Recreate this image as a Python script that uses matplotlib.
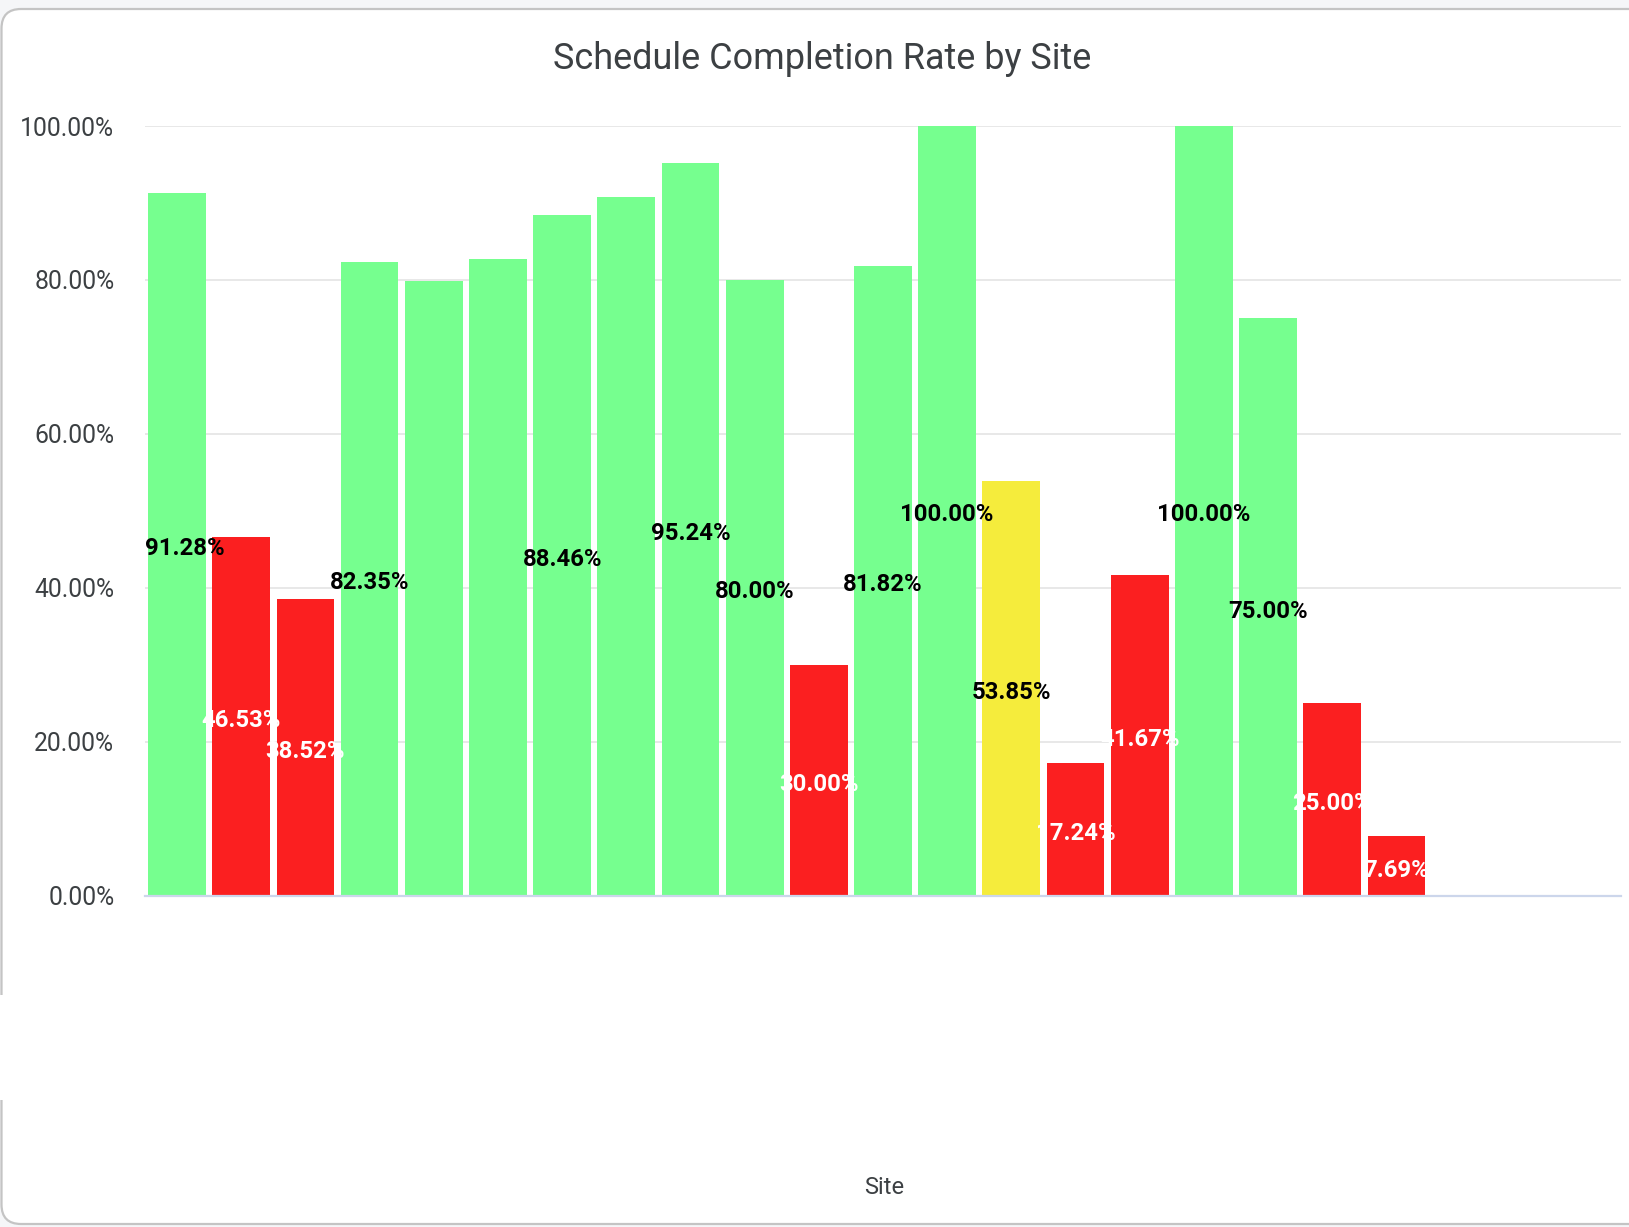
import matplotlib
matplotlib.use("Agg")
import matplotlib.pyplot as plt
from matplotlib.patches import FancyBboxPatch, Rectangle

plt.rcParams['font.family'] = ['Roboto', 'DejaVu Sans']

# ---- data ----
sites = [f"Site {i+1}" for i in range(20)]
rates = [91.28, 46.53, 38.52, 82.35, 79.87, 82.73, 88.46, 90.78, 95.24, 80.00,
         30.00, 81.82, 100.00, 53.85, 17.24, 41.67, 100.00, 75.00, 25.00, 7.69]
status = ["ok", "bad", "bad", "ok", "ok", "ok", "ok", "ok", "ok", "ok",
          "bad", "ok", "ok", "warn", "bad", "bad", "ok", "ok", "bad", "bad"]
show_label = [True, True, True, True, False, False, True, False, True, True,
              True, True, True, True, True, True, True, True, True, True]
n_slots = 23
yticks = [0, 20, 40, 60, 80, 100]

colors = {"ok": "#76FF8F", "bad": "#FB1F20", "warn": "#F5EC3C"}
text_colors = {"ok": "black", "bad": "white", "warn": "black"}

W, H = 1629, 1227
fig = plt.figure(figsize=(W / 100, H / 100), dpi=100)

# page background strip and card
fig.patches.append(Rectangle((0, 0), 1, 1, transform=fig.transFigure,
                             facecolor="#f5f6f8", edgecolor="none", zorder=0))
card = FancyBboxPatch((1.5 / W, 3 / H), (W + 40) / W, (H - 12) / H,
                      boxstyle="round,pad=0,rounding_size=0.012",
                      transform=fig.transFigure, facecolor="white",
                      edgecolor="#c4c4c4", linewidth=1.6, zorder=1,
                      mutation_aspect=W / H)
fig.patches.append(card)
# gap in left border of the card
fig.patches.append(Rectangle((0, 1 - 1100 / H), 6 / W, 105 / H, transform=fig.transFigure,
                             facecolor="white", edgecolor="none", zorder=2))

ax = fig.add_axes([145 / W, 1 - 895.5 / H, 1476 / W, 769.5 / H])
ax.set_zorder(3)
ax.patch.set_alpha(0)

x = list(range(len(rates)))
bar_colors = [colors[s] for s in status]
ax.bar(x, rates, width=0.9, color=bar_colors, zorder=2)

ax.set_xlim(-0.5, n_slots - 0.5)
ax.set_ylim(0, 100)

labels = []
for xi, v, s, show in zip(x, rates, status, show_label):
    if show:
        t = ax.annotate(f"{v:.2f}%", (xi, v / 2), xytext=(0, -3), textcoords="offset points",
                        ha="center", va="center", fontsize=17.2, fontweight="bold",
                        color=text_colors[s], zorder=4)
        labels.append(t)

# keep labels inside the plot area (shift right if they overflow on the left)
fig.canvas.draw()
renderer = fig.canvas.get_renderer()
ax_bb = ax.get_window_extent(renderer)
for t in labels:
    bb = t.get_window_extent(renderer)
    if bb.x0 < ax_bb.x0:
        dx = (ax_bb.x0 - bb.x0) * 72 / fig.dpi
        t.set_position((dx, -3))

ax.set_yticks(yticks)
ax.set_yticklabels([f"{t:.2f}%" for t in yticks], fontsize=17.8, color="#3c4043")
ax.tick_params(axis="y", length=0, pad=22)
ax.set_xticks([])
for sp in ["left", "right", "top"]:
    ax.spines[sp].set_visible(False)
ax.spines["bottom"].set_color("#ccd6eb")
ax.spines["bottom"].set_linewidth(1.6)
ax.grid(axis="y", color="#e6e6e6", linewidth=1.3, zorder=0)
ax.set_axisbelow(True)

fig.text(822 / W, 1 - 59 / H, "Schedule Completion Rate by Site", ha="center", va="center",
         fontsize=25.9, color="#3c4043", zorder=5)
fig.text(884 / W, 1 - 1187 / H, "Site", ha="center", va="center",
         fontsize=17, color="#3c4043", zorder=5)

fig.savefig("out.png", dpi=100)
